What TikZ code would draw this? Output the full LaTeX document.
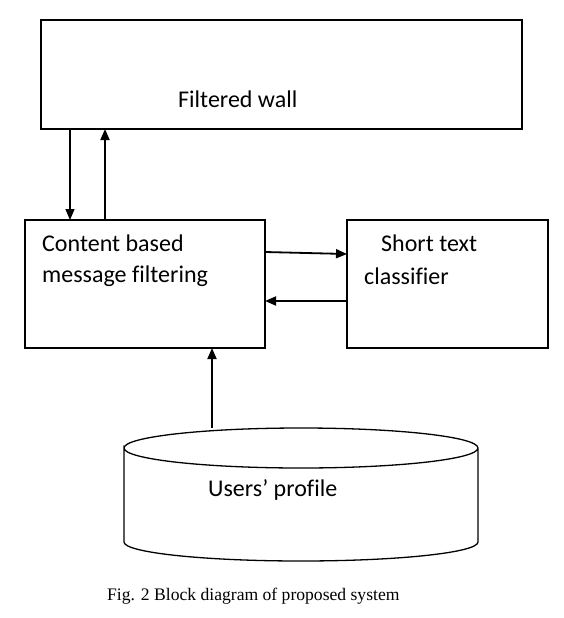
\documentclass[tikz,border=0pt]{standalone}
\usepackage{fontspec}
\setmainfont[Ligatures=CommonOff]{Carlito}
\newfontfamily\capfont{Liberation Serif}
\usetikzlibrary{arrows.meta}
\begin{document}
\begin{tikzpicture}[x=1pt,y=-1pt,
  blockbox/.style={draw,line width=2pt,inner sep=0pt},
  lbl/.style={anchor=base west,inner sep=0pt,font=\fontsize{24}{28}\selectfont},
  arr/.style={line width=1.8pt,-{Triangle[length=11pt,width=9pt]}},
  dbline/.style={line width=1.3pt}]
\useasboundingbox (0,0) rectangle (564,618);
% boxes
\node[blockbox,minimum width=481pt,minimum height=109pt] (wall) at (281.5,74.5) {};
\node[blockbox,minimum width=240pt,minimum height=128pt] (content) at (145,284) {};
\node[blockbox,minimum width=201pt,minimum height=128pt] (cls) at (447.5,284) {};
% texts
\node[lbl] (twall) at (178,107) {Filtered wall};
\node[lbl] (tc1) at (42,251) {Content based};
\node[lbl] (tc2) at (42,282) {message filtering};
\node[lbl] (ts1) at (381,251) {Short text};
\node[lbl] (ts2) at (364,284) {classifier};
% cylinder
\draw[dbline] (124,448) arc[start angle=180,end angle=360,x radius=177,y radius=20]
  arc[start angle=0,end angle=180,x radius=177,y radius=20] -- (124,542)
  arc[start angle=180,end angle=0,x radius=177,y radius=19] -- (478,448);
\coordinate (dbtop) at (212,428);
\node[lbl] (tdb) at (208,496) {Users’ profile};
% arrows
\coordinate (w1) at (70,129); \coordinate (c1) at (70,220);
\coordinate (w2) at (105,129); \coordinate (c2) at (105,220);
\draw[arr,line width=1.5pt] (w1) -- (c1);
\draw[arr] (c2) -- (w2);
\coordinate (ce1) at (265,252); \coordinate (sw1) at (347,254);
\coordinate (sw2) at (347,301); \coordinate (ce2) at (265,301);
\draw[arr] (ce1) -- (sw1);
\draw[arr] (sw2) -- (ce2);
\coordinate (cb) at (212,348);
\draw[arr] (dbtop) -- (cb);
% caption
\node[anchor=base west,inner sep=0pt,font=\capfont\fontsize{17.6}{20}\selectfont] (cap) at (107,600) {Fig. 2 Block diagram of proposed system};
\end{tikzpicture}
\end{document}
